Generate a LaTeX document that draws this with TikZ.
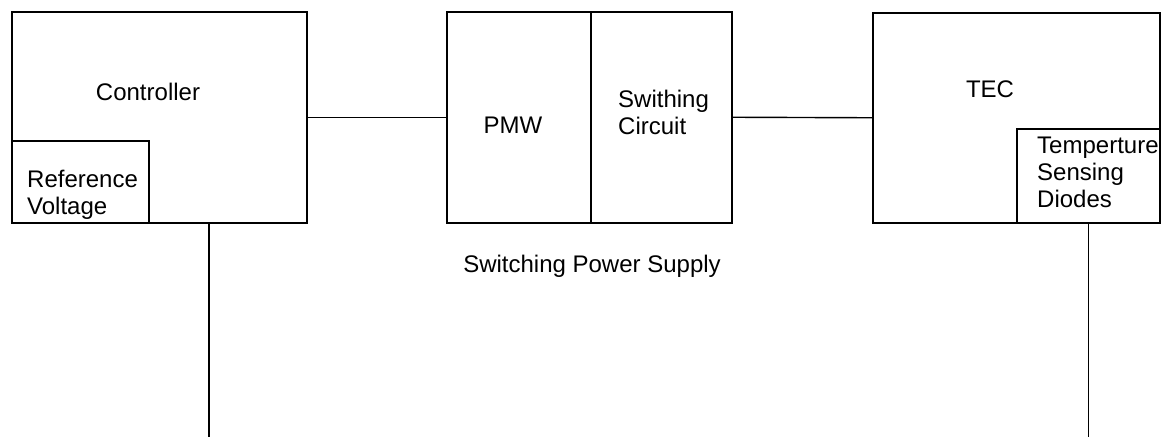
\documentclass[tikz,border=0pt]{standalone}
\usepackage{fontspec}
\setmainfont{Liberation Sans}
\usetikzlibrary{positioning, calc}

\tikzset{
  blockbox/.style={draw, line width=1.5pt, inner sep=0pt, anchor=north west},
  blocktext/.style={font=\fontsize{24}{27}\selectfont, inner sep=0pt, align=left},
  wire/.style={line width=1.4pt}
}

\begin{document}
\begin{tikzpicture}[x=1pt, y=-1pt]
  \useasboundingbox (0,0) rectangle (1162,437);

  \node[blockbox, minimum width=295pt, minimum height=211pt] (ctrl) at (11,11) {};
  \node[blockbox, minimum width=137pt, minimum height=82pt] (refv) at (11,140) {};
  \node[blocktext] (ctrltxt) at (148,92) {Controller};
  \node[blocktext, anchor=north west] (refvtxt) at (27,170) {Reference\\Voltage};

  \node[blockbox, minimum width=144pt, minimum height=211pt] (pmw) at (446,11) {};
  \node[blockbox, minimum width=141pt, minimum height=211pt] (swc) at (590,11) {};
  \node[blocktext] (pmwtxt) at (513,125) {PMW};
  \node[blocktext, anchor=north west] (swctxt) at (618,90) {Swithing\\Circuit};
  \node[blocktext] (spstxt) at (592,266) {Switching Power Supply};

  \node[blockbox, minimum width=287pt, minimum height=210pt] (tec) at (872,12) {};
  \node[blockbox, minimum width=143pt, minimum height=94pt] (tsd) at (1016,128) {};
  \node[blocktext] (tectxt) at (990,89) {TEC};
  \node[blocktext, anchor=north west] (tsdtxt) at (1037,137) {Temperture\\Sensing\\Diodes};

  \coordinate (ctrlend) at (209,437);
  \coordinate (tsdend) at (tsd.south |- 0,437);

  \draw[wire] (ctrl.east) -- (pmw.west);
  \draw[wire] (swc.east) -- (tec.west);
  \draw[wire] (ctrlend |- ctrl.south) -- (ctrlend);
  \draw[wire] (tsd.south) -- (tsdend);
\end{tikzpicture}
\end{document}
